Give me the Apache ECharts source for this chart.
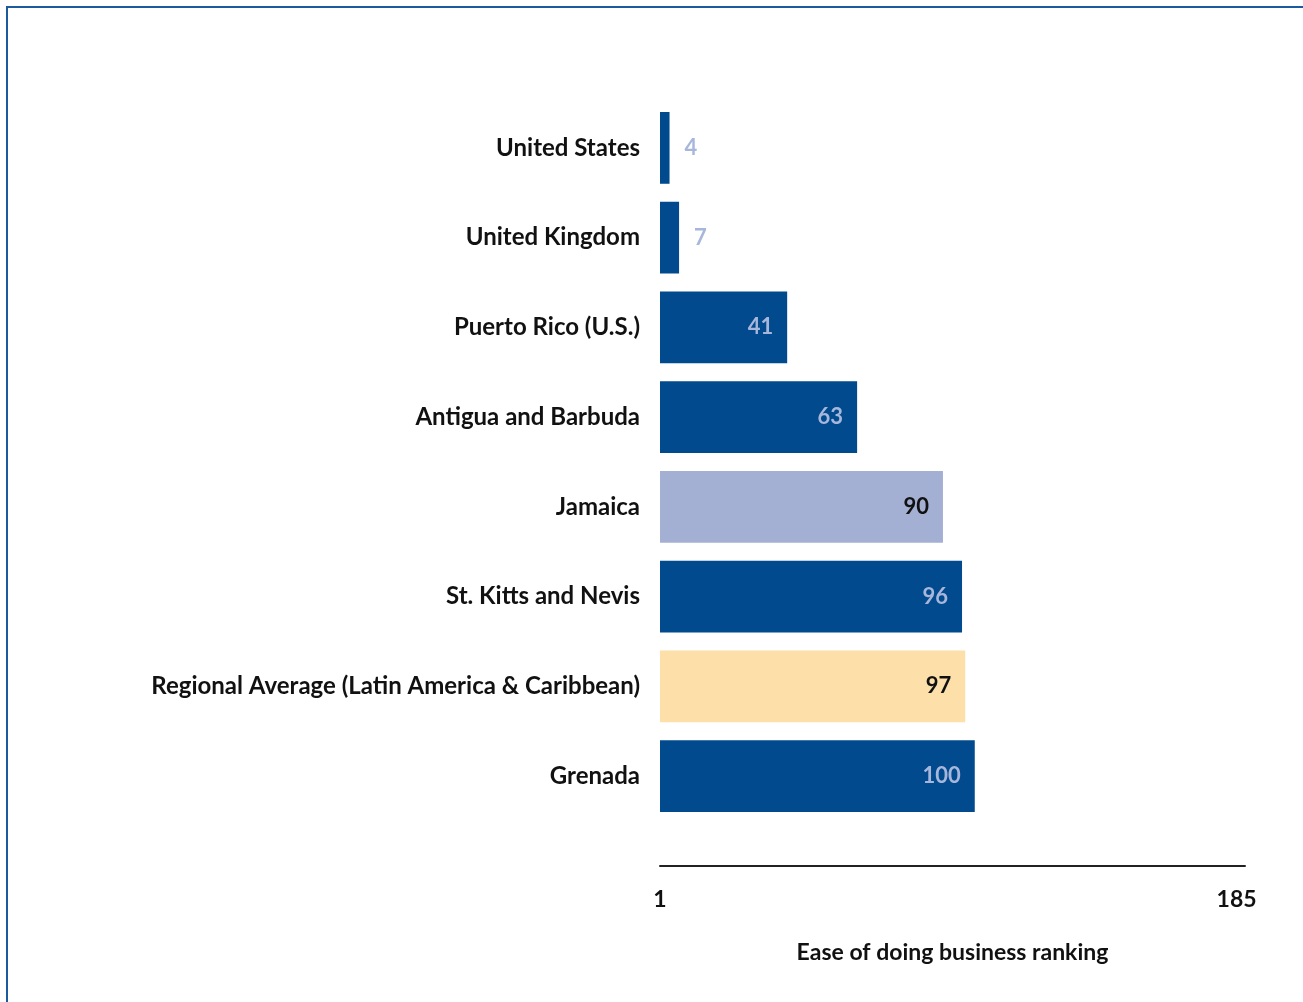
<!DOCTYPE html>
<html>
<head>
<meta charset="utf-8">
<script src="https://cdn.jsdelivr.net/npm/echarts@6/dist/echarts.min.js"></script>
<style>
  html, body { margin: 0; padding: 0; background: #fff; }
  #chart { width: 1303px; height: 1002px; }
</style>
</head>
<body>
<div id="chart"></div>
<script>
// data
var countries = ['United States', 'United Kingdom', 'Puerto Rico (U.S.)', 'Antigua and Barbuda',
  'Jamaica', 'St. Kitts and Nevis', 'Regional Average (Latin America & Caribbean)', 'Grenada'];
var rankings = [4, 7, 41, 63, 90, 96, 97, 100];
var rankTicks = [1, 185];

var dark = '#004a8d';
var pale = '#a3b0d3';
var sand = '#fde0a9';
var font = 'Lato';

// bar colour and label style by country
function barStyle(name) {
  if (name === 'Jamaica') return { color: pale, label: '#111' };
  if (name.indexOf('Regional') === 0) return { color: sand, label: '#111' };
  return { color: dark, label: '#a7b6db' };
}

var seriesData = countries.map(function (c, i) {
  var v = rankings[i];
  var s = barStyle(c);
  var short = v < 20;
  return {
    value: v,
    itemStyle: { color: s.color },
    label: {
      show: true,
      position: short ? 'right' : 'insideRight',
      distance: short ? 15 : 14,
      color: s.label
    }
  };
});

var chart = echarts.init(document.getElementById('chart'));
chart.setOption({
  backgroundColor: '#fff',
  animation: false,
  textStyle: { fontFamily: font },
  graphic: [
    { type: 'polyline', shape: { points: [[7, 1002], [7, 7], [1303, 7]] },
      style: { stroke: '#1b5a9e', lineWidth: 2, fill: null } }
  ],
  grid: { left: 660, right: 58, top: 103, bottom: 181 },
  xAxis: {
    type: 'value',
    min: 1,
    max: 185,
    offset: 45,
    splitLine: { show: false },
    axisLine: { show: true, lineStyle: { color: '#222', width: 2 } },
    axisTick: { show: false },
    axisLabel: {
      customValues: rankTicks,
      margin: 22,
      fontSize: 23,
      fontWeight: 'bold',
      color: '#111',
      fontFamily: font,
      formatter: function (v) { return v === 185 ? '185   ' : v; }
    },
    name: 'Ease of doing business ranking',
    nameLocation: 'middle',
    nameGap: 75,
    nameTextStyle: { fontSize: 23, fontWeight: 'bold', color: '#111', fontFamily: font }
  },
  yAxis: {
    type: 'category',
    data: countries,
    inverse: true,
    axisLine: { show: false },
    axisTick: { show: false },
    axisLabel: { margin: 20, fontSize: 24, fontWeight: 'bold', color: '#111', fontFamily: font }
  },
  series: [{
    type: 'bar',
    data: seriesData,
    barCategoryGap: '20%',
    label: { fontSize: 22, fontWeight: 'bold', fontFamily: font }
  }]
});
</script>
</body>
</html>
